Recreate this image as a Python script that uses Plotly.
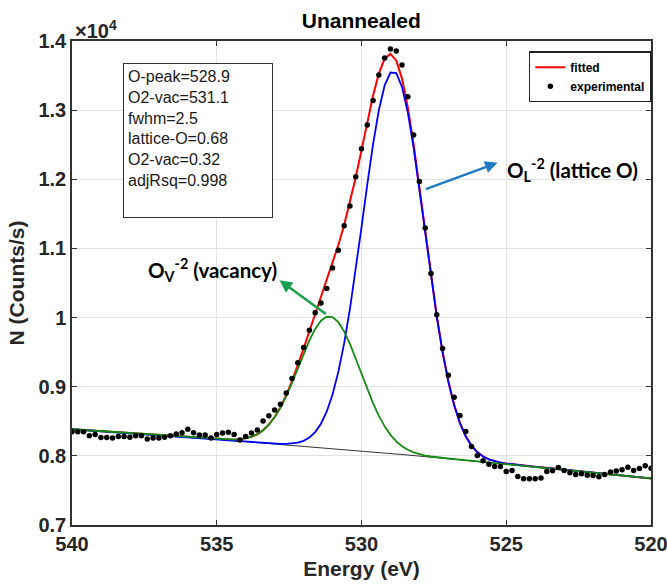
import numpy as np
import plotly.graph_objects as go

# XPS O 1s spectrum, unannealed sample (binding energy grid, 0.2 eV step)
energy = [round(540.0 - 0.2 * i, 1) for i in range(101)]

# Measured counts per second
counts = [
    8350, 8350, 8350, 8290, 8310, 8264, 8264, 8260, 8280, 8280,
    8270, 8290, 8290, 8245, 8260, 8260, 8270, 8290, 8317, 8336,
    8385, 8336, 8300, 8300, 8260, 8310, 8330, 8340, 8310, 8230,
    8280, 8330, 8375, 8505, 8580, 8664, 8746, 8910, 9120, 9347,
    9568, 9818, 10068, 10212, 10420, 10717, 10973, 11328, 11612, 12036,
    12440, 12786, 13141, 13508, 13753, 13883, 13854, 13652, 13194, 12642,
    11968, 11294, 10636, 10039, 9554, 9164, 8847, 8582, 8351, 8134,
    8004, 7928, 7880, 7846, 7846, 7773, 7788, 7701, 7668, 7668,
    7668, 7678, 7773, 7783, 7831, 7788, 7755, 7730, 7740, 7721,
    7716, 7697, 7730, 7765, 7780, 7798, 7837, 7788, 7817, 7856,
    7822,
]

# Fit parameters
lattice_center = 528.9
vacancy_center = 531.1
fwhm = 2.5
lattice_frac = 0.68
vacancy_frac = 0.32
adj_rsq = 0.998
peak_heights = [5534, 1910]          # lattice O, vacancy
bg_energy = [540.0, 530.0, 520.0]    # background anchor energies
bg_counts = [8385, 8070, 7673]       # background anchor counts

# Tick labels
x_ticks = [540, 535, 530, 525, 520]
y_ticks = [7000, 8000, 9000, 10000, 11000, 12000, 13000, 14000]
y_tick_text = ["0.7", "0.8", "0.9", "1", "1.1", "1.2", "1.3", "1.4"]

# ---- model curves -------------------------------------------------------
e = np.array(energy)
sigma = fwhm / (2 * np.sqrt(2 * np.log(2)))
bg = np.polyval(np.polyfit(bg_energy, bg_counts, 2), e)
g_lat = peak_heights[0] * np.exp(-((e - lattice_center) ** 2) / (2 * sigma ** 2))
g_vac = peak_heights[1] * np.exp(-((e - vacancy_center) ** 2) / (2 * sigma ** 2))
lattice_curve = bg + g_lat
vacancy_curve = bg + g_vac
fitted = bg + g_lat + g_vac

AX = "#333333"
FONT = "Liberation Sans, Arial, sans-serif"

fig = go.Figure()
fig.add_trace(go.Scatter(x=e, y=bg, mode="lines", line=dict(color="black", width=0.8),
                         showlegend=False, hoverinfo="skip"))
fig.add_trace(go.Scatter(x=e, y=fitted, mode="lines", name="fitted",
                         line=dict(color="#ff0000", width=2), legendrank=1))
fig.add_trace(go.Scatter(x=e, y=lattice_curve, mode="lines",
                         line=dict(color="#0000ff", width=1.8), showlegend=False))
fig.add_trace(go.Scatter(x=e, y=vacancy_curve, mode="lines",
                         line=dict(color="#148c14", width=1.8), showlegend=False))
fig.add_trace(go.Scatter(x=energy, y=counts, mode="markers", name="experimental",
                         marker=dict(color="black", size=5.5), legendrank=2))

axis_common = dict(
    showline=True, linecolor=AX, linewidth=1.5, mirror="ticks",
    ticks="inside", ticklen=5, tickcolor=AX, tickwidth=1,
    showgrid=True, gridcolor="#e2e2e2", gridwidth=1, zeroline=False,
    ticklabeloverflow="allow", automargin=False,
    tickfont=dict(family=FONT, size=20, color="#262626", weight="bold"),
)

fig.update_layout(
    width=667, height=588,
    margin=dict(l=72, r=16, t=41, b=63),
    paper_bgcolor="white", plot_bgcolor="white",
    title=dict(text="<b>Unannealed</b>", x=0.5416, xanchor="center",
               y=1 - 21 / 588, yanchor="middle",
               font=dict(family=FONT, size=21, color="black")),
    xaxis=dict(range=[540, 520], tickvals=x_ticks,
               title=dict(text="<b>Energy (eV)</b>", standoff=8,
                          font=dict(family=FONT, size=21, color="#262626")),
               **axis_common),
    yaxis=dict(range=[7000, 14000], tickvals=y_ticks, ticktext=y_tick_text,
               title=dict(text="<b>N (Counts/s)</b>", standoff=8,
                          font=dict(family=FONT, size=21, color="#262626")),
               **axis_common),
    legend=dict(x=0.789, y=0.979, xanchor="left", yanchor="top",
                bgcolor="white", bordercolor="#222222", borderwidth=1.5,
                font=dict(family=FONT, size=12, color="black", weight="bold"),
                tracegroupgap=0, itemwidth=30),
)

# exponent label
fig.add_annotation(xref="paper", yref="paper", x=0, y=1, xanchor="left", yanchor="bottom",
                   xshift=1, yshift=-3, showarrow=False, text="\u00d710<sup>4</sup>",
                   font=dict(family=FONT, size=20, color="#262626", weight="bold"))

# fit summary box
summary = "<br>".join([
    f"O-peak={lattice_center}",
    f"O2-vac={vacancy_center}",
    f"fwhm={fwhm}",
    f"lattice-O={lattice_frac}",
    f"O2-vac={vacancy_frac}",
    f"adjRsq={adj_rsq}",
])
fig.add_annotation(xref="paper", yref="paper", x=(123 - 72) / 579, y=(525 - 63) / 484,
                   xanchor="left", yanchor="top", showarrow=False, text=summary,
                   align="left", valign="top", width=140, height=145,
                   bgcolor="white", bordercolor="#333333", borderwidth=1, borderpad=4,
                   font=dict(family=FONT, size=16, color="#1a1a1a"))

# peak labels with arrows
fig.add_annotation(x=525.30, y=12240, ax=527.83, ay=11850, axref="x", ayref="y",
                   text="", showarrow=True, arrowhead=2, arrowsize=1, arrowwidth=2.5,
                   arrowcolor="#1f7cc4", standoff=0, startstandoff=0)
fig.add_annotation(x=525.03, y=12134, xanchor="left", yanchor="middle", showarrow=False,
                   text="O<sub>L</sub><sup>-2</sup> (lattice O)",
                   font=dict(family="Lato, sans-serif", size=20.5, color="black", weight="bold"))

fig.add_annotation(x=532.83, y=10540, ax=531.18, ay=10035, axref="x", ayref="y",
                   text="", showarrow=True, arrowhead=2, arrowsize=1, arrowwidth=2.5,
                   arrowcolor="#17a04e", standoff=0, startstandoff=0)
fig.add_annotation(x=537.45, y=10688, xanchor="left", yanchor="middle", showarrow=False,
                   text="O<sub>V</sub><sup>-2</sup> (vacancy)",
                   font=dict(family="Lato, sans-serif", size=20.5, color="black", weight="bold"))

fig.write_html("out.html")
